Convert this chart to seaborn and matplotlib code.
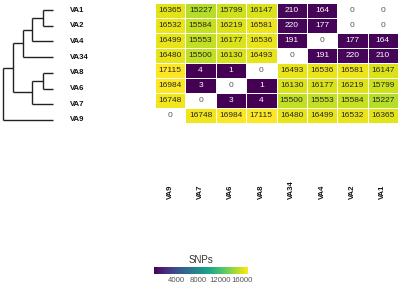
import numpy as np
import pandas as pd
import matplotlib
matplotlib.use('Agg')
import matplotlib.pyplot as plt
import seaborn as sns

sns.set_style('white')
plt.rcParams['font.family'] = ['Liberation Sans', 'DejaVu Sans']

# Row order (tree order, top to bottom) and column order of the heatmap
row_names = ['VA1', 'VA2', 'VA4', 'VA34', 'VA8', 'VA6', 'VA7', 'VA9']
col_names = ['VA9', 'VA7', 'VA6', 'VA8', 'VA34', 'VA4', 'VA2', 'VA1']

# SNP distances
snp_va1 = [16365, 15227, 15799, 16147, 210, 164, 0, 0]
snp_va2 = [16532, 15584, 16219, 16581, 220, 177, 0, 0]
snp_va4 = [16499, 15553, 16177, 16536, 191, 0, 177, 164]
snp_va34 = [16480, 15500, 16130, 16493, 0, 191, 220, 210]
snp_va8 = [17115, 4, 1, 0, 16493, 16536, 16581, 16147]
snp_va6 = [16984, 3, 0, 1, 16130, 16177, 16219, 15799]
snp_va7 = [16748, 0, 3, 4, 15500, 15553, 15584, 15227]
snp_va9 = [0, 16748, 16984, 17115, 16480, 16499, 16532, 16365]

# Tree: merges as (child a, child b, height); leaves are 0..7 in row order
tree_merges = [(0, 1, 10), (8, 2, 21), (9, 3, 30),
               (4, 5, 10), (11, 6, 21), (10, 12, 40), (13, 7, 50)]

cbar_ticks = [4000, 8000, 12000, 16000]

snp = pd.DataFrame([snp_va1, snp_va2, snp_va4, snp_va34,
                    snp_va8, snp_va6, snp_va7, snp_va9],
                   index=row_names, columns=col_names)

fig = plt.figure(figsize=(4, 2.88), dpi=100)
W, H = 400, 288

def px_axes(x0, y0, x1, y1):
    return fig.add_axes([x0 / W, 1 - y1 / H, (x1 - x0) / W, (y1 - y0) / H])

# --- dendrogram ---
ax_d = px_axes(3, 2.2, 53, 127.8)
pos = {i: (float(i), 0.0) for i in range(len(row_names))}
for k, (a, b, h) in enumerate(tree_merges):
    ya, ha = pos[a]
    yb, hb = pos[b]
    kw = dict(color='#222222', lw=1.0, clip_on=False, solid_capstyle='butt')
    ax_d.plot([ha, h], [ya, ya], **kw)
    ax_d.plot([hb, h], [yb, yb], **kw)
    ax_d.plot([h, h], [ya, yb], **kw)
    pos[len(row_names) + k] = ((ya + yb) / 2, h)
ax_d.set_xlim(50, 0)
ax_d.set_ylim(len(row_names) - 0.5, -0.5)
ax_d.axis('off')
for i, name in enumerate(row_names):
    ax_d.annotate(name, xy=(0, i), xytext=(12.2, 0), textcoords='offset points',
                  ha='left', va='center', fontsize=5.6, fontweight='bold',
                  color='#111111', annotation_clip=False)

# --- heatmap ---
ax_h = px_axes(155, 3, 398, 123)
cax = px_axes(154, 267, 248, 274)
sns.heatmap(snp, mask=(snp == 0), cmap='viridis', vmin=0, vmax=17115,
            annot=True, fmt='d', annot_kws={'fontsize': 6},
            linewidths=0.4, linecolor='white', ax=ax_h, cbar_ax=cax,
            cbar_kws={'orientation': 'horizontal', 'ticks': cbar_ticks})
# zero cells are masked (white) but still labelled
for i in range(snp.shape[0]):
    for j in range(snp.shape[1]):
        if snp.iat[i, j] == 0:
            ax_h.text(j + 0.5, i + 0.5, '0', ha='center', va='center',
                      fontsize=6, color='#555555')

ax_h.set_yticks([])
ax_h.set_ylabel('')
ax_h.set_xticklabels(col_names, rotation=90, va='bottom', fontsize=5.6,
                     fontweight='bold', color='#111111')
ax_h.tick_params(axis='x', length=0, pad=54.5)

# --- colour bar ---
cax.set_title('SNPs', fontsize=7, color='#333333', pad=3)
cax.tick_params(axis='x', labelsize=5.6, labelcolor='#555555', length=2,
                direction='in', color='white', pad=2.5)
ax_h.collections[0].colorbar.outline.set_visible(False)

fig.savefig('out.png', dpi=100)
